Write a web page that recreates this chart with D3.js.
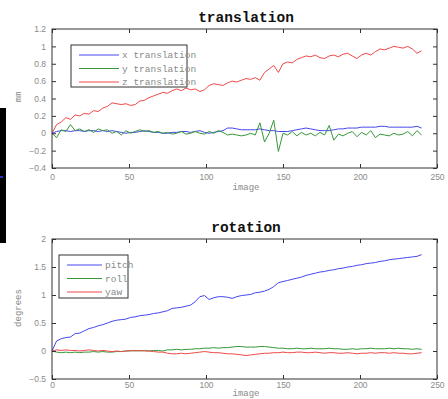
<!DOCTYPE html>
<html>
<head>
<meta charset="utf-8">
<script src="https://cdn.jsdelivr.net/npm/d3@7"></script>
<style>
  body { margin: 0; background: #fff; }
  svg { display: block; font-family: "Liberation Mono", "DejaVu Sans Mono", monospace; }
  .tick text { fill: #8a8a8a; font-size: 8.5px; }
</style>
</head>
<body>
<div class="chart"></div>
<script>
var svgWidth = 448;
var svgHeight = 399;

// sampled every 3 images, 0..240
var step = 3;

var xTranslation = [0.0,0.02,0.03,0.03,0.02,0.03,0.03,0.02,0.03,0.03,0.02,0.03,0.02,0.03,0.02,0.01,0.0,0.01,0.01,0.02,
  0.03,0.02,0.01,0.01,0.0,0.0,0.01,0.01,0.02,0.02,0.01,0.02,0.03,0.01,0.0,0.01,0.02,0.03,0.06,0.06,
  0.05,0.04,0.04,0.04,0.04,0.05,0.04,0.03,0.03,0.02,0.02,0.02,0.03,0.04,0.05,0.06,0.05,0.04,0.03,0.03,
  0.03,0.04,0.05,0.05,0.06,0.06,0.06,0.07,0.07,0.07,0.07,0.08,0.08,0.07,0.07,0.07,0.07,0.07,0.07,0.08,0.06];
var yTranslation = [0.0,-0.05,0.04,0.02,0.1,0.03,0.05,0.02,0.04,0.01,0.05,0.03,0.04,0.0,0.02,-0.02,0.03,0.0,0.02,0.04,
  0.02,0.03,0.01,0.02,0.0,0.01,-0.01,0.0,0.02,-0.01,0.0,0.02,0.0,-0.01,0.02,0.0,0.03,0.01,-0.02,-0.01,
  -0.02,-0.03,-0.02,0.0,-0.02,0.12,-0.1,0.0,0.15,-0.21,0.0,-0.02,0.02,-0.03,0.01,-0.02,0.0,-0.03,0.01,-0.02,
  0.09,-0.08,-0.01,-0.03,0.0,0.02,-0.04,0.01,-0.02,0.03,-0.05,-0.01,-0.02,-0.03,0.0,-0.02,-0.01,0.02,-0.03,0.03,-0.02];
var zTranslation = [0.0,0.1,0.13,0.18,0.16,0.21,0.2,0.23,0.22,0.26,0.25,0.29,0.31,0.35,0.34,0.33,0.34,0.32,0.33,0.37,
  0.38,0.41,0.43,0.45,0.47,0.46,0.49,0.51,0.49,0.52,0.5,0.51,0.48,0.5,0.55,0.57,0.56,0.55,0.58,0.6,
  0.59,0.61,0.63,0.62,0.64,0.61,0.7,0.74,0.78,0.7,0.8,0.82,0.81,0.85,0.87,0.89,0.88,0.9,0.87,0.86,
  0.89,0.9,0.88,0.91,0.92,0.89,0.86,0.9,0.92,0.9,0.94,0.97,0.96,0.98,1.0,0.99,0.98,1.0,0.97,0.92,0.95];

var pitch = [0.0,0.18,0.22,0.24,0.25,0.31,0.32,0.36,0.4,0.42,0.45,0.47,0.5,0.53,0.55,0.56,0.57,0.6,0.61,0.63,
  0.64,0.65,0.67,0.68,0.7,0.72,0.76,0.77,0.78,0.8,0.82,0.88,0.97,0.99,0.92,0.95,0.97,0.97,0.96,0.94,
  0.97,0.99,1.0,1.01,1.04,1.05,1.07,1.1,1.15,1.22,1.24,1.26,1.28,1.3,1.32,1.35,1.37,1.39,1.41,1.42,
  1.44,1.45,1.47,1.48,1.5,1.51,1.53,1.54,1.56,1.57,1.58,1.6,1.61,1.63,1.64,1.65,1.66,1.67,1.68,1.69,1.72];
var roll = [0.0,-0.02,-0.03,-0.02,-0.03,-0.02,-0.03,-0.02,-0.02,-0.01,-0.02,-0.01,-0.02,-0.02,-0.01,-0.01,0.0,0.0,0.01,0.0,
  0.01,0.0,0.01,0.01,0.0,0.02,0.02,0.03,0.02,0.03,0.03,0.04,0.04,0.05,0.05,0.06,0.05,0.06,0.06,0.07,
  0.08,0.08,0.07,0.07,0.07,0.08,0.08,0.07,0.06,0.05,0.05,0.04,0.04,0.05,0.04,0.04,0.05,0.04,0.04,0.04,
  0.05,0.04,0.04,0.03,0.03,0.04,0.03,0.04,0.04,0.05,0.04,0.04,0.04,0.05,0.04,0.05,0.04,0.04,0.03,0.04,0.03];
var yaw = [0.0,0.02,0.01,0.02,0.01,0.01,0.0,0.01,0.02,0.01,0.0,0.01,0.0,-0.01,0.0,-0.01,0.0,0.01,0.0,0.01,
  0.0,0.0,-0.01,-0.02,-0.02,-0.04,-0.05,-0.05,-0.04,-0.05,-0.04,-0.03,-0.02,-0.01,-0.02,-0.03,-0.03,-0.04,-0.05,-0.05,
  -0.06,-0.07,-0.08,-0.07,-0.06,-0.05,-0.04,-0.04,-0.03,-0.03,-0.02,-0.03,-0.03,-0.02,-0.02,-0.03,-0.03,-0.02,-0.03,-0.04,
  -0.03,-0.03,-0.04,-0.04,-0.03,-0.04,-0.05,-0.04,-0.04,-0.03,-0.04,-0.03,-0.03,-0.04,-0.03,-0.04,-0.04,-0.05,-0.05,-0.04,-0.03];

var xTicks = [0, 50, 100, 150, 200, 250];
var transTicks = [-0.4, -0.2, 0, 0.2, 0.4, 0.6, 0.8, 1, 1.2];
var rotTicks = [-0.5, 0, 0.5, 1, 1.5, 2];

var colors = ["#4646ee", "#36973a", "#f04848"];

var svg = d3.select(".chart")
  .append("svg")
  .attr("width", svgWidth)
  .attr("height", svgHeight);

// dark strip at the left edge of the picture
svg.append("rect")
  .attr("x", 0).attr("y", 108)
  .attr("width", 6).attr("height", 135)
  .attr("fill", "#000");
svg.append("rect")
  .attr("x", 0).attr("y", 176)
  .attr("width", 3).attr("height", 2)
  .attr("fill", "#3030c0");

function drawPanel(opts) {
  var left = 52, right = 437;
  var xScale = d3.scaleLinear().domain([0, 250]).range([left, right]);
  var yScale = d3.scaleLinear().domain(opts.yDomain).range([opts.bottom, opts.top]);

  var g = svg.append("g");

  // lines
  var line = d3.line()
    .x((d, i) => xScale(i * step))
    .y(d => yScale(d));

  opts.series.forEach(function(s, k) {
    g.append("path")
      .datum(s)
      .attr("fill", "none")
      .attr("stroke", colors[k])
      .attr("stroke-width", 1)
      .attr("d", line);
  });

  // axes, ticks pointing inward
  var bottomAxis = d3.axisBottom(xScale).tickValues(xTicks).tickSizeInner(-4).tickSizeOuter(0).tickPadding(opts.xPad);
  var topAxis = d3.axisTop(xScale).tickValues(xTicks).tickSizeInner(-4).tickSizeOuter(0).tickFormat("");
  var leftAxis = d3.axisLeft(yScale).tickValues(opts.yTicks).tickSizeInner(-4).tickSizeOuter(0).tickPadding(6)
    .tickFormat(d3.format("~g"));
  var rightAxis = d3.axisRight(yScale).tickValues(opts.yTicks).tickSizeInner(-4).tickSizeOuter(0).tickFormat("");

  [
    g.append("g").attr("transform", `translate(0, ${opts.bottom})`).call(bottomAxis),
    g.append("g").attr("transform", `translate(0, ${opts.top})`).call(topAxis),
    g.append("g").attr("transform", `translate(${left}, 0)`).call(leftAxis),
    g.append("g").attr("transform", `translate(${right}, 0)`).call(rightAxis)
  ].forEach(function(ax) {
    ax.select(".domain").remove();
    ax.selectAll("line").attr("stroke", "#333");
  });

  g.append("rect")
    .attr("x", left).attr("y", opts.top)
    .attr("width", right - left).attr("height", opts.bottom - opts.top)
    .attr("fill", "none")
    .attr("stroke", "#333")
    .attr("stroke-width", 1);

  // title
  g.append("text")
    .attr("x", 246).attr("y", opts.top - 7)
    .attr("text-anchor", "middle")
    .attr("font-size", "14.5px")
    .attr("font-weight", "bold")
    .attr("fill", "#111")
    .text(opts.title);

  // axis labels
  g.append("text")
    .attr("x", 246).attr("y", opts.bottom + opts.xLabelOff)
    .attr("text-anchor", "middle")
    .attr("font-size", "9px")
    .attr("fill", "#8a8a8a")
    .text("image");

  g.append("text")
    .attr("transform", `translate(21, ${opts.yLabelY}) rotate(-90)`)
    .attr("text-anchor", "middle")
    .attr("font-size", "9px")
    .attr("fill", "#8a8a8a")
    .text(opts.yLabel);

  // legend
  var lg = opts.legend;
  g.append("rect")
    .attr("x", lg.x).attr("y", lg.y)
    .attr("width", lg.w).attr("height", lg.h)
    .attr("fill", "#fff")
    .attr("stroke", "#333")
    .attr("stroke-width", 1);

  opts.names.forEach(function(name, k) {
    var yy = lg.y + 10 + k * 13.5;
    g.append("line")
      .attr("x1", lg.x + 8).attr("x2", lg.x + 8 + lg.lineLen)
      .attr("y1", yy).attr("y2", yy)
      .attr("stroke", colors[k])
      .attr("stroke-width", 1);
    g.append("text")
      .attr("x", lg.x + 11 + lg.lineLen).attr("y", yy + 3)
      .attr("font-size", "9.5px")
      .attr("fill", "#8a8a8a")
      .text(name);
  });
}

drawPanel({
  title: "translation",
  top: 29, bottom: 168,
  yDomain: [-0.4, 1.2],
  yTicks: transTicks,
  xPad: 6, xLabelOff: 22,
  yLabel: "mm", yLabelY: 97,
  series: [xTranslation, yTranslation, zTranslation],
  names: ["x translation", "y translation", "z translation"],
  legend: { x: 71, y: 45, w: 116, h: 42, lineLen: 40 }
});

drawPanel({
  title: "rotation",
  top: 239, bottom: 379,
  yDomain: [-0.5, 2],
  yTicks: rotTicks,
  xPad: 3, xLabelOff: 17,
  yLabel: "degrees", yLabelY: 308,
  series: [pitch, roll, yaw],
  names: ["pitch", "roll", "yaw"],
  legend: { x: 59, y: 255, w: 69, h: 43, lineLen: 35 }
});
</script>
</body>
</html>
